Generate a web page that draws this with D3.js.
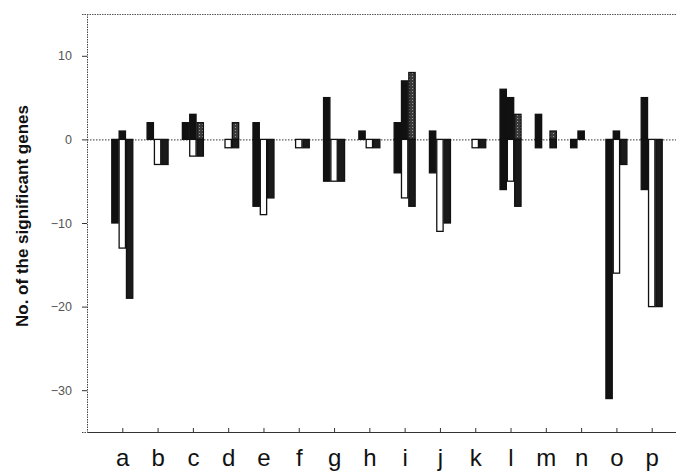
<!DOCTYPE html>
<html>
<head>
<meta charset="utf-8">
<script src="https://cdn.jsdelivr.net/npm/d3@7"></script>
<style>
  html, body { margin: 0; padding: 0; background: #fff; }
  svg { display: block; }
</style>
</head>
<body>
<svg id="chart" width="676" height="472"></svg>
<script>
// Categories
const categories = ["a","b","c","d","e","f","g","h","i","j","k","l","m","n","o","p"];
// Up-regulated (positive) counts per series
const up1 = [0, 2, 2, 0, 2, 0, 5, 1, 2, 1, 0, 6, 3, 0, 0, 5];
const up2 = [1, 0, 3, 0, 0, 0, 0, 0, 7, 0, 0, 5, 0, 1, 1, 0];
const up3 = [0, 0, 2, 2, 0, 0, 0, 0, 8, 0, 0, 3, 1, 0, 0, 0];
// Down-regulated (negative) counts per series
const down1 = [-10, 0, 0, 0, -8, 0, -5, 0, -4, -4, 0, -6, -1, -1, -31, -6];
const down2 = [-13, -3, -2, -1, -9, -1, -5, -1, -7, -11, -1, -5, 0, 0, -16, -20];
const down3 = [-19, -3, -2, -1, -7, -1, -5, -1, -8, -10, -1, -8, -1, 0, -3, -20];
// Y tick values
const yTicks = [10, 0, -10, -20, -30];

const svg = d3.select("#chart");
const mLeft = 87, mTop = 14, mBottom = 432, mRight = 687;

const defs = svg.append("defs");
const pat = defs.append("pattern").attr("id", "speck").attr("patternUnits", "userSpaceOnUse")
  .attr("width", 3).attr("height", 3);
pat.append("rect").attr("width", 3).attr("height", 3).attr("fill", "#3a3a3a");
pat.append("rect").attr("x", 1).attr("y", 1).attr("width", 1).attr("height", 1).attr("fill", "#9a9a9a");

const x = d3.scalePoint().domain(categories).range([mLeft, mRight]).padding(1);
const sub = d3.scaleBand().domain([0, 1, 2]).range([-11, 11]);
const y = d3.scaleLinear().domain([-35, 15]).range([mBottom, mTop]);

// Frame: top dotted line
svg.append("line").attr("x1", mLeft).attr("x2", 676).attr("y1", mTop + 0.5).attr("y2", mTop + 0.5)
  .attr("stroke", "#555").attr("stroke-dasharray", "1.5,1");

// zero line
svg.append("line").attr("x1", mLeft).attr("x2", 676).attr("y1", y(0) + 0.5).attr("y2", y(0) + 0.5)
  .attr("stroke", "#333").attr("stroke-dasharray", "1.5,1.5");

const series = [
  { up: up1, down: down1, upFill: "#111", downFill: "#111" },
  { up: up2, down: down2, upFill: "#111", downFill: "#fff" },
  { up: up3, down: down3, upFill: "url(#speck)", downFill: "#1a1a1a" }
];

const bw = sub.bandwidth();
series.forEach((s, si) => {
  const g = svg.append("g");
  const mk = (vals, fill) => {
    g.selectAll(null).data(categories.map((c, i) => ({ c, v: vals[i] })).filter(d => d.v !== 0))
      .enter().append("rect")
      .attr("x", d => x(d.c) + sub(si) + 0.5)
      .attr("width", bw - 1)
      .attr("y", d => Math.min(y(d.v), y(0)))
      .attr("height", d => Math.abs(y(d.v) - y(0)))
      .attr("fill", fill)
      .attr("stroke", "#111")
      .attr("stroke-width", 1.3);
  };
  mk(s.up, s.upFill);
  mk(s.down, s.downFill);
});

// Y axis
const yAxis = d3.axisLeft(y).tickValues(yTicks).tickSize(5).tickFormat(d3.format("d"));
const ya = svg.append("g").attr("transform", `translate(${mLeft},0)`).call(yAxis);
ya.select(".domain").attr("stroke", "#444").attr("stroke-dasharray", "1.5,1");
ya.selectAll(".tick line").attr("stroke", "#333");
ya.selectAll(".tick text").attr("font-family", "Liberation Sans, Arial, sans-serif")
  .attr("font-size", 12.5).attr("fill", "#555").attr("x", -15);

// X axis
const xAxis = d3.axisBottom(x).tickSize(-4).tickSizeOuter(0);
const xa = svg.append("g").attr("transform", `translate(0,${mBottom})`).call(xAxis);
xa.select(".domain").attr("stroke", "#333").attr("stroke-width", 1.2);
xa.selectAll(".tick line").attr("stroke", "#333");
xa.selectAll(".tick text").attr("font-family", "Liberation Sans, Arial, sans-serif")
  .attr("font-size", 24).attr("fill", "#111").attr("dy", 0).attr("y", 34);

// Y title
svg.append("text")
  .attr("transform", `translate(28,216) rotate(-90)`)
  .attr("text-anchor", "middle")
  .attr("font-family", "Liberation Sans, Arial, sans-serif")
  .attr("font-weight", "bold").attr("font-size", 17).attr("fill", "#111")
  .text("No. of the significant genes");
</script>
</body>
</html>
